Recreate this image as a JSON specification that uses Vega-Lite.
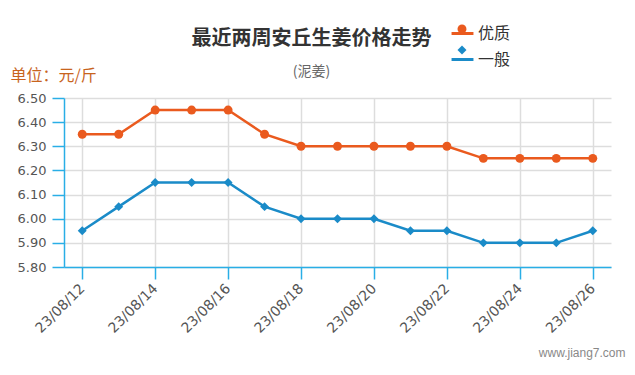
{
  "$schema": "https://vega.github.io/schema/vega-lite/v6.json",
  "width": 547,
  "height": 169,
  "autosize": {"type": "none"},
  "padding": {"left": 64, "top": 98, "right": 24, "bottom": 108},
  "background": "white",
  "config": {
    "font": "Noto Sans CJK SC",
    "view": {"stroke": null},
    "legend": {"padding": 0}
  },
  "title": {
    "text": "最近两周安丘生姜价格走势",
    "subtitle": "(泥姜)",
    "anchor": "middle",
    "frame": "group",
    "dx": -26,
    "offset": -58,
    "fontSize": 20,
    "fontWeight": "bold",
    "color": "#333333",
    "subtitleFontSize": 14,
    "subtitleColor": "#666666",
    "subtitlePadding": 16
  },
  "data": {
    "values": [
      {"date": "23/08/12", "series": "优质", "price": 6.35},
      {"date": "23/08/13", "series": "优质", "price": 6.35},
      {"date": "23/08/14", "series": "优质", "price": 6.45},
      {"date": "23/08/15", "series": "优质", "price": 6.45},
      {"date": "23/08/16", "series": "优质", "price": 6.45},
      {"date": "23/08/17", "series": "优质", "price": 6.35},
      {"date": "23/08/18", "series": "优质", "price": 6.30},
      {"date": "23/08/19", "series": "优质", "price": 6.30},
      {"date": "23/08/20", "series": "优质", "price": 6.30},
      {"date": "23/08/21", "series": "优质", "price": 6.30},
      {"date": "23/08/22", "series": "优质", "price": 6.30},
      {"date": "23/08/23", "series": "优质", "price": 6.25},
      {"date": "23/08/24", "series": "优质", "price": 6.25},
      {"date": "23/08/25", "series": "优质", "price": 6.25},
      {"date": "23/08/26", "series": "优质", "price": 6.25},
      {"date": "23/08/12", "series": "一般", "price": 5.95},
      {"date": "23/08/13", "series": "一般", "price": 6.05},
      {"date": "23/08/14", "series": "一般", "price": 6.15},
      {"date": "23/08/15", "series": "一般", "price": 6.15},
      {"date": "23/08/16", "series": "一般", "price": 6.15},
      {"date": "23/08/17", "series": "一般", "price": 6.05},
      {"date": "23/08/18", "series": "一般", "price": 6.00},
      {"date": "23/08/19", "series": "一般", "price": 6.00},
      {"date": "23/08/20", "series": "一般", "price": 6.00},
      {"date": "23/08/21", "series": "一般", "price": 5.95},
      {"date": "23/08/22", "series": "一般", "price": 5.95},
      {"date": "23/08/23", "series": "一般", "price": 5.90},
      {"date": "23/08/24", "series": "一般", "price": 5.90},
      {"date": "23/08/25", "series": "一般", "price": 5.90},
      {"date": "23/08/26", "series": "一般", "price": 5.95}
    ]
  },
  "encoding": {
    "x": {
      "field": "date",
      "type": "ordinal",
      "sort": null,
      "scale": {"type": "point", "padding": 0.5},
      "axis": {
        "values": ["23/08/12", "23/08/14", "23/08/16", "23/08/18", "23/08/20", "23/08/22", "23/08/24", "23/08/26"],
        "labelAngle": -45,
        "labelAlign": "right",
        "labelBaseline": "middle",
        "labelFont": "DejaVu Sans",
        "labelFontSize": 14,
        "labelColor": "#555555",
        "labelPadding": 7,
        "tickSize": 12,
        "tickColor": "#29aee6",
        "tickWidth": 1.5,
        "domainColor": "#29aee6",
        "domainWidth": 1.5,
        "grid": true,
        "gridColor": "#dddddd",
        "gridWidth": 1.5,
        "title": "www.jiang7.com",
        "titleFont": "Liberation Sans",
        "titleFontSize": 12,
        "titleFontWeight": "normal",
        "titleColor": "#888888",
        "titleAnchor": "end",
        "titleAlign": "right",
        "titleX": 561,
        "titleY": 89,
        "titleBaseline": "alphabetic"
      }
    },
    "y": {
      "field": "price",
      "type": "quantitative",
      "scale": {"domain": [5.8, 6.5], "zero": false, "nice": false},
      "axis": {
        "values": [5.8, 5.9, 6.0, 6.1, 6.2, 6.3, 6.4, 6.5],
        "format": ".2f",
        "labelFont": "DejaVu Sans",
        "labelFontSize": 13,
        "labelColor": "#555555",
        "labelPadding": 6,
        "tickSize": 12,
        "tickColor": "#29aee6",
        "tickWidth": 1.5,
        "domainColor": "#29aee6",
        "domainWidth": 1.5,
        "grid": true,
        "gridColor": "#dddddd",
        "gridWidth": 1.5,
        "title": "单位：元/斤",
        "titleAngle": 0,
        "titleAlign": "left",
        "titleBaseline": "middle",
        "titleX": -54,
        "titleY": -23,
        "titleFontSize": 16,
        "titleFontWeight": "normal",
        "titleColor": "#c8641e",
        "titleLimit": 200
      }
    },
    "color": {
      "field": "series",
      "type": "nominal",
      "sort": ["优质", "一般"],
      "scale": {"domain": ["优质", "一般"], "range": ["#ea5a1e", "#1a8bc8"]}
    }
  },
  "layer": [
    {
      "mark": {"type": "line", "strokeWidth": 2.5},
      "encoding": {
        "color": {
          "field": "series",
          "type": "nominal",
          "sort": ["优质", "一般"],
          "scale": {"domain": ["优质", "一般"], "range": ["#ea5a1e", "#1a8bc8"]},
          "legend": {
            "orient": "none",
            "legendX": 386,
            "legendY": -77,
            "title": null,
            "symbolType": "stroke",
            "symbolSize": 480,
            "symbolStrokeWidth": 3,
            "labelFontSize": 16,
            "labelColor": "#333333",
            "labelOffset": 3,
            "rowPadding": 5
          }
        }
      }
    },
    {
      "mark": {"type": "point", "filled": true, "opacity": 1, "size": 80},
      "encoding": {
        "color": {
          "field": "series",
          "type": "nominal",
          "sort": ["优质", "一般"],
          "scale": {"domain": ["优质", "一般"], "range": ["#ea5a1e", "#1a8bc8"]},
          "legend": {
            "orient": "none",
            "legendX": 390,
            "legendY": -77,
            "title": null,
            "symbolSize": 80,
            "symbolOpacity": 1,
            "labelFontSize": 16,
            "labelColor": "transparent",
            "labelOffset": 6,
            "rowPadding": 5,
            "encode": {
              "symbols": {
                "update": {
                  "shape": {"scale": "shape", "field": "value"}
                }
              }
            }
          }
        },
        "shape": {
          "field": "series",
          "type": "nominal",
          "sort": ["优质", "一般"],
          "scale": {"domain": ["优质", "一般"], "range": ["circle", "diamond"]},
          "legend": null
        }
      }
    }
  ],
  "resolve": {"legend": {"color": "independent"}}
}
